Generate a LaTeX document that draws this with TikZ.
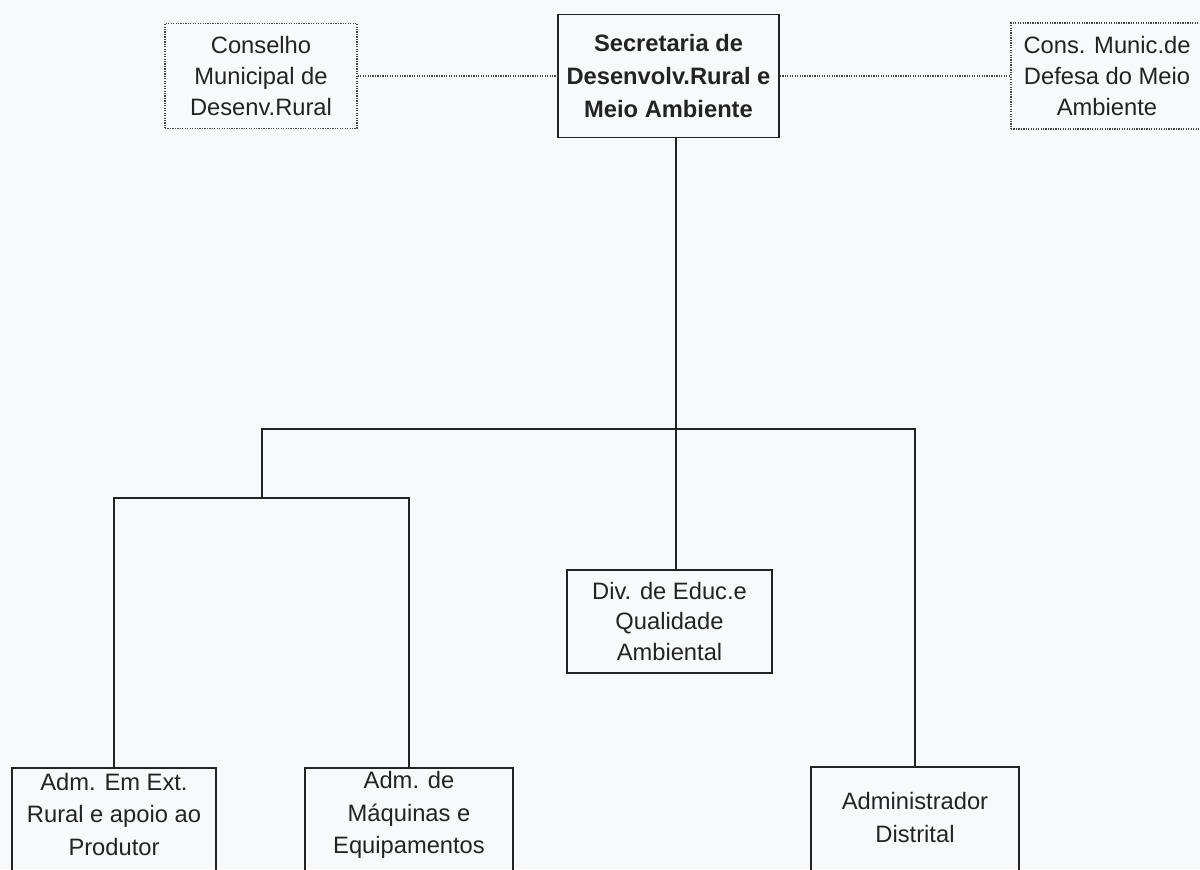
\documentclass[tikz,border=0pt]{standalone}
\usepackage{fontspec}
\setmainfont{Liberation Sans}
\usepackage{xcolor}
\usepackage{tikz}
\definecolor{paper}{HTML}{F7F9FB}
\definecolor{ink}{HTML}{232323}

\begin{document}
\begin{tikzpicture}[x=0.02cm, y=-0.02cm]
        \tikzset{
            org_box/.style={draw=ink, shape = rectangle, line width=1pt, align=center, text=ink, inner sep=2pt, font=\fontsize{13.5}{17.5}\selectfont},
            low_box/.style={org_box, font=\fontsize{13.5}{18.5}\selectfont},
            council_box/.style={org_box, draw=ink!85, line width=0.8pt, dash pattern=on 0.7pt off 0.7pt},
            council_line/.style={draw=ink!85, line width=0.8pt, dash pattern=on 0.7pt off 0.7pt},
            tree_line/.style={draw=ink, line width=1pt}
        }
        \fill[paper] (0,0) rectangle (1200,869);
        \useasboundingbox (0,0) rectangle (1200,869);
        \node[council_box, minimum width=3.84cm, minimum height=2.1cm] (A) at (261,76) {Conselho\\Municipal de\\Desenv.Rural};
        \node[org_box, minimum width=4.42cm, minimum height=2.46cm, font=\fontsize{13.5}{19}\selectfont\bfseries] (B) at (668.5,76) {Secretaria de\\Desenvolv.Rural e\\Meio Ambiente};
        \node[council_box, minimum width=3.84cm, minimum height=2.12cm] (C) at (1107,76) {Cons. Munic.de\\Defesa do Meio\\Ambiente};
        \node[org_box, minimum width=4.1cm, minimum height=2.06cm] (D) at (669.5,621.5) {Div. de Educ.e\\Qualidade\\Ambiental};
        \node[low_box, minimum width=4.08cm, inner ysep=3pt, text depth=12pt, anchor=north] (E) at (114,767) {Adm. Em Ext.\\Rural e apoio ao\\Produtor};
        \node[low_box, minimum width=4.16cm, text depth=12pt, anchor=north] (F) at (409,767) {Adm. de\\Máquinas e\\Equipamentos};
        \node[low_box, minimum width=4.16cm, minimum height=2.08cm, text depth=2pt] (H) at (915,819) {Administrador\\Distrital};
        \coordinate (T) at (676,429);
        \coordinate (L) at (262,429);
        \coordinate (M) at (262,498);
        \path (A) edge [council_line] (B);
        \path (B) edge [council_line] (C);
        \draw[tree_line] (T |- B.south) -- (T |- D.north);
        \draw[tree_line] (M) -- (L) -| (H.north);
        \draw[tree_line] (E.north) |- (M) -| (F.north);
    \end{tikzpicture}
\end{document}
